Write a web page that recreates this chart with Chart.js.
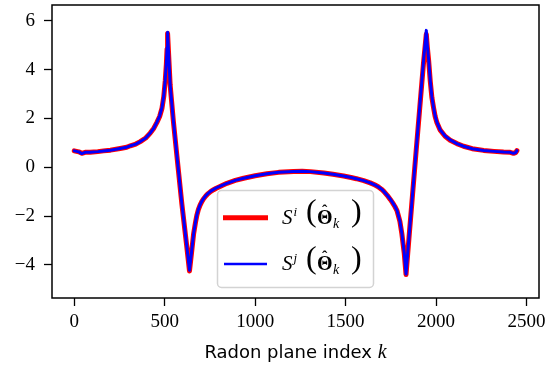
<!DOCTYPE html>
<html>
<head>
<meta charset="utf-8">
<script src="https://cdn.jsdelivr.net/npm/chart.js@4.4.0/dist/chart.umd.min.js"></script>
<style>
  html, body { margin: 0; padding: 0; background: #fff; }
  #wrap { width: 547px; height: 367px; }
</style>
</head>
<body>
<div id="wrap"><canvas id="c" width="547" height="367"></canvas></div>
<script>
// Radon plane index k
const kIndex = [
  0, 25, 42, 60, 88, 130, 162, 200, 254, 290, 310, 340, 365, 395, 420, 440, 457, 472, 485, 495,
  503, 509, 513, 516, 530, 548, 570, 595, 620, 637, 648, 660, 670, 678, 686, 695, 705, 715, 727, 740, 755, 770, 785, 800,
  820, 844, 890, 936, 1000, 1065, 1130, 1212, 1260, 1305, 1380, 1430, 1489, 1530, 1560, 1600, 1636, 1660, 1680, 1698, 1710, 1730, 1747, 1760, 1773, 1784,
  1800, 1811, 1824, 1834, 1850, 1870, 1890, 1910, 1930, 1946, 1952, 1959, 1968, 1977, 1986, 1995, 2005, 2023,
  2050, 2078, 2115, 2152, 2200, 2263, 2320, 2373, 2410, 2428, 2440, 2447
];
// S^i (red, thick)
const siValues = [
  0.67, 0.63, 0.57, 0.61, 0.61, 0.64, 0.67, 0.70, 0.77, 0.82, 0.88, 0.95, 1.05, 1.20, 1.40, 1.60, 1.84, 2.08, 2.42, 2.90,
  3.55, 4.20, 4.85, 5.48, 3.38, 1.88, 0.28, -1.52, -3.12, -4.25, -3.52, -2.72, -2.27, -1.96, -1.74, -1.56, -1.41, -1.29, -1.18, -1.08, -0.99, -0.92, -0.86, -0.81,
  -0.74, -0.66, -0.54, -0.45, -0.35, -0.27, -0.21, -0.17, -0.16, -0.18, -0.24, -0.29, -0.36, -0.42, -0.47, -0.55, -0.64, -0.72, -0.80, -0.90, -0.98, -1.15, -1.32, -1.46, -1.62, -1.78,
  -2.22, -2.73, -3.52, -4.40, -2.92, -1.12, 0.68, 2.45, 4.22, 5.45, 4.90, 4.38, 3.52, 2.85, 2.44, 2.08, 1.82, 1.52,
  1.27, 1.11, 0.97, 0.86, 0.76, 0.69, 0.65, 0.62, 0.61, 0.57, 0.60, 0.68
];
// S^j (blue, thin)
const sjValues = [
  0.67, 0.63, 0.56, 0.61, 0.61, 0.64, 0.67, 0.70, 0.77, 0.82, 0.88, 0.95, 1.05, 1.20, 1.40, 1.60, 1.85, 2.10, 2.45, 2.95,
  3.60, 4.27, 4.90, 5.53, 3.40, 1.90, 0.30, -1.50, -3.10, -4.22, -3.50, -2.71, -2.26, -1.95, -1.73, -1.55, -1.40, -1.28, -1.17, -1.07, -0.98, -0.91, -0.85, -0.80,
  -0.73, -0.66, -0.54, -0.45, -0.35, -0.27, -0.21, -0.17, -0.16, -0.18, -0.24, -0.29, -0.36, -0.42, -0.47, -0.55, -0.64, -0.72, -0.80, -0.89, -0.98, -1.15, -1.31, -1.45, -1.61, -1.77,
  -2.20, -2.71, -3.50, -4.38, -2.90, -1.10, 0.70, 2.50, 4.30, 5.61, 4.98, 4.41, 3.55, 2.88, 2.46, 2.10, 1.84, 1.53,
  1.28, 1.12, 0.97, 0.86, 0.76, 0.69, 0.65, 0.62, 0.61, 0.57, 0.60, 0.68
];
const xTicks = [0, 500, 1000, 1500, 2000, 2500];
const yTicks = [-4, -2, 0, 2, 4, 6];
const xLabel = 'Radon plane index';
const legendSups = ['i', 'j'];

const tickFont = { family: '"Liberation Serif", serif', size: 19 };
const fmt = v => (v < 0 ? '\u2212' + Math.abs(v) : String(v));

// box around the plot area
const framePlugin = {
  id: 'frame',
  afterDraw(chart) {
    const { ctx, chartArea: a } = chart;
    ctx.save();
    ctx.strokeStyle = '#000';
    ctx.lineWidth = 1.5;
    ctx.strokeRect(a.left, a.top, a.right - a.left, a.bottom - a.top);
    ctx.restore();
  }
};

// x axis title: sans text + italic k
const xTitlePlugin = {
  id: 'xTitle',
  afterDraw(chart) {
    const { ctx, chartArea: a } = chart;
    ctx.save();
    ctx.fillStyle = '#000';
    ctx.textBaseline = 'alphabetic';
    ctx.textAlign = 'left';
    const sans = '18px "DejaVu Sans", sans-serif';
    const ital = 'italic 20px "Liberation Serif", serif';
    ctx.font = sans;
    const w1 = ctx.measureText(xLabel + ' ').width;
    ctx.font = ital;
    const w2 = ctx.measureText('k').width;
    const x0 = (a.left + a.right) / 2 - (w1 + w2) / 2;
    ctx.font = sans;
    ctx.fillText(xLabel + ' ', x0, 358);
    ctx.font = ital;
    ctx.fillText('k', x0 + w1, 358);
    ctx.restore();
  }
};

function drawMath(ctx, x, y, sup) {
  ctx.fillStyle = '#000';
  ctx.textAlign = 'left';
  ctx.textBaseline = 'alphabetic';
  ctx.font = 'italic 21px "Liberation Serif", serif';
  ctx.fillText('S', x, y);
  let cx = x + ctx.measureText('S').width + 1;
  ctx.font = 'italic 13px "Liberation Serif", serif';
  ctx.fillText(sup, cx, y - 8);
  ctx.font = '32px "Liberation Serif", serif';
  ctx.fillText('(', x + 24, y - 2.5);
  ctx.font = 'bold 20px "Liberation Serif", serif';
  const tx = x + 35;
  ctx.fillText('\u0398', tx, y);
  const tw = ctx.measureText('\u0398').width;
  ctx.font = 'bold 16px "Liberation Serif", serif';
  const hw = ctx.measureText('\u02C6').width;
  ctx.fillText('\u02C6', tx + tw / 2 - hw / 2, y - 8);
  ctx.font = 'italic 14px "Liberation Serif", serif';
  ctx.fillText('k', tx + tw + 0.5, y + 4);
  ctx.font = '32px "Liberation Serif", serif';
  ctx.fillText(')', x + 69, y - 2.5);
}

const legendPlugin = {
  id: 'mathLegend',
  afterDraw(chart) {
    const ctx = chart.ctx;
    ctx.save();
    ctx.beginPath();
    ctx.roundRect(217.5, 190.5, 156, 97, 4);
    ctx.fillStyle = 'rgba(255,255,255,0.8)';
    ctx.fill();
    ctx.strokeStyle = '#d3d3d3';
    ctx.lineWidth = 1.5;
    ctx.stroke();

    ctx.lineCap = 'butt';
    ctx.strokeStyle = 'red';
    ctx.lineWidth = 5;
    ctx.beginPath(); ctx.moveTo(223, 217.7); ctx.lineTo(268, 217.7); ctx.stroke();
    ctx.strokeStyle = 'blue';
    ctx.lineWidth = 2.6;
    ctx.beginPath(); ctx.moveTo(224, 264); ctx.lineTo(267, 264); ctx.stroke();

    drawMath(ctx, 282, 223.5, legendSups[0]);
    drawMath(ctx, 282, 270, legendSups[1]);
    ctx.restore();
  }
};

const toPoints = vals => kIndex.map((k, i) => ({ x: k, y: vals[i] }));

new Chart(document.getElementById('c'), {
  type: 'line',
  data: {
    datasets: [
      {
        label: 'S^i',
        data: toPoints(siValues),
        borderColor: 'red',
        borderWidth: 5,
        pointRadius: 0,
        tension: 0,
        borderJoinStyle: 'round',
        borderCapStyle: 'round',
        order: 2
      },
      {
        label: 'S^j',
        data: toPoints(sjValues),
        borderColor: 'blue',
        borderWidth: 3,
        pointRadius: 0,
        tension: 0,
        borderJoinStyle: 'round',
        borderCapStyle: 'round',
        order: 1
      }
    ]
  },
  options: {
    responsive: false,
    animation: false,
    devicePixelRatio: 1,
    layout: { padding: { top: 5, right: 8, left: 0, bottom: 0 } },
    plugins: { legend: { display: false }, tooltip: { enabled: false } },
    scales: {
      x: {
        type: 'linear',
        min: -123,
        max: 2569,
        afterBuildTicks: s => { s.ticks = xTicks.map(v => ({ value: v })); },
        afterFit: s => { s.height = 69; s.paddingLeft = 0; s.paddingRight = 0; },
        ticks: { font: tickFont, color: '#000', padding: 5, maxRotation: 0, autoSkip: false, callback: v => fmt(v) },
        grid: { drawOnChartArea: false, drawTicks: true, tickLength: 8, tickColor: '#000', tickWidth: 1.3 },
        border: { display: false }
      },
      y: {
        min: -5.36,
        max: 6.65,
        afterBuildTicks: s => { s.ticks = yTicks.map(v => ({ value: v })); },
        afterFit: s => { s.width = 52; s.paddingTop = 0; s.paddingBottom = 0; },
        ticks: { font: tickFont, color: '#000', padding: 9, autoSkip: false, callback: v => fmt(v) },
        grid: { drawOnChartArea: false, drawTicks: true, tickLength: 8, tickColor: '#000', tickWidth: 1.3 },
        border: { display: false }
      }
    }
  },
  plugins: [framePlugin, legendPlugin, xTitlePlugin]
});
</script>
</body>
</html>
